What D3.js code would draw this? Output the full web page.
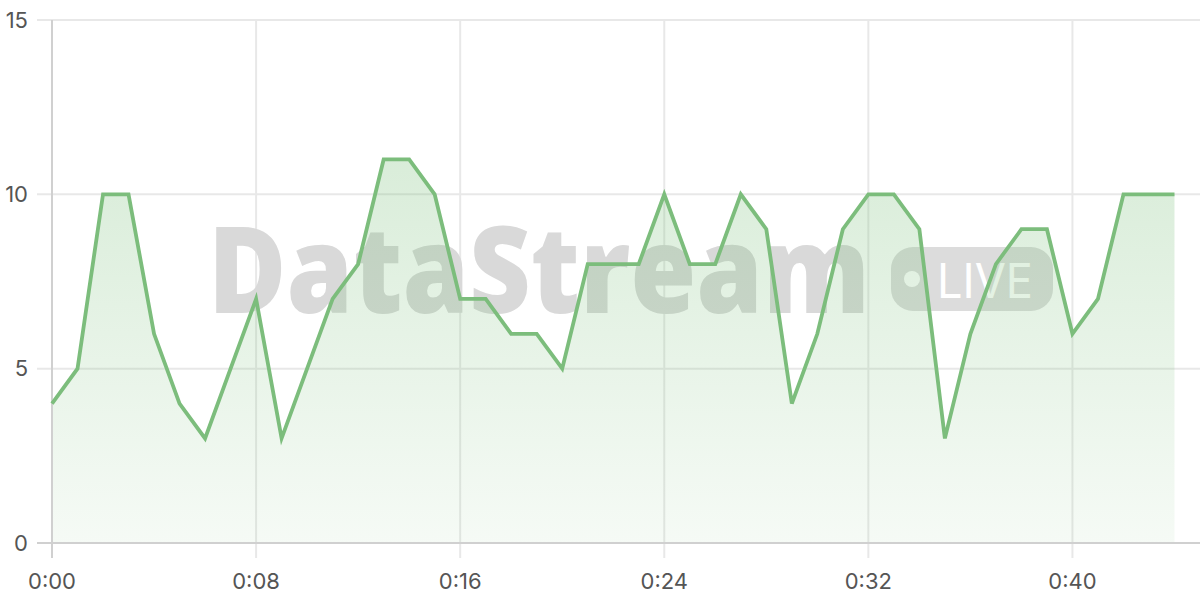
<!DOCTYPE html>
<html><head><meta charset="utf-8">
<script src="https://cdn.jsdelivr.net/npm/d3@7"></script>
<style>body{margin:0;background:#fff}svg{display:block}</style>
</head><body>
<svg id="c" width="1200" height="600"></svg>
<script>
const seconds = d3.range(0, 45);
const values = [4,5,10,10,6,4,3,5,7,3,5,7,8,11,11,10,7,7,6,6,5,8,8,8,10,8,8,10,9,4,6,9,10,10,9,3,6,8,9,9,6,7,10,10,10];
const xTicks = [0,8,16,24,32,40];
const yTicks = [0,5,10,15];
const data = seconds.map((s,i)=>({s, v: values[i]}));

const svg = d3.select("#c");
const x = d3.scaleLinear().domain([0,45]).range([52,1200]);
const y = d3.scaleLinear().domain([0,15]).range([543,20]);
const fmt = s => Math.floor(s/60)+":"+String(s%60).padStart(2,"0");

// grid
svg.append("g").selectAll("line").data(yTicks).join("line")
  .attr("x1",37).attr("x2",1200).attr("y1",d=>y(d)).attr("y2",d=>y(d))
  .attr("stroke","#e8e8e8").attr("stroke-width",2);
svg.append("g").selectAll("line").data(xTicks).join("line")
  .attr("x1",d=>x(d)).attr("x2",d=>x(d)).attr("y1",20).attr("y2",558)
  .attr("stroke","#e8e8e8").attr("stroke-width",2);

// watermark
const wm = svg.append("g");
wm.append("text").attr("x",208).attr("y",313).text("DataStream")
  .attr("font-family","Open Sans, Lato, sans-serif").attr("font-weight",800)
  .attr("font-size",120).attr("fill","#d9d9d9")
  .attr("textLength",662).attr("lengthAdjust","spacingAndGlyphs");
wm.append("rect").attr("x",891).attr("y",247).attr("width",162).attr("height",64).attr("rx",22)
  .attr("fill","#dcdcdc");
wm.append("circle").attr("cx",912).attr("cy",279).attr("r",8).attr("fill","#fff");
wm.append("text").attr("x",937).attr("y",298).text("LIVE")
  .attr("font-family","Inter, Open Sans, sans-serif").attr("font-size",48).attr("fill","#fff")
  .attr("textLength",96).attr("lengthAdjust","spacingAndGlyphs");

// gradient
const defs = svg.append("defs");
const g = defs.append("linearGradient").attr("id","ag").attr("x1",0).attr("x2",0).attr("y1",0).attr("y2",1);
g.append("stop").attr("offset","0%").attr("stop-color","rgb(120,190,120)").attr("stop-opacity",0.28);
g.append("stop").attr("offset","100%").attr("stop-color","rgb(120,190,120)").attr("stop-opacity",0.07);

svg.append("path").datum(data)
  .attr("d", d3.area().x(d=>x(d.s)).y0(y(0)).y1(d=>y(d.v)))
  .attr("fill","url(#ag)");

// axes lines
svg.append("line").attr("x1",52).attr("x2",52).attr("y1",20).attr("y2",558).attr("stroke","#d0d0d0").attr("stroke-width",2);
svg.append("line").attr("x1",37).attr("x2",1200).attr("y1",543).attr("y2",543).attr("stroke","#d0d0d0").attr("stroke-width",2);

svg.append("path").datum(data)
  .attr("d", d3.line().x(d=>x(d.s)).y(d=>y(d.v)))
  .attr("fill","none").attr("stroke","#7cbd7c").attr("stroke-width",3.8).attr("stroke-linejoin","miter");

// labels
svg.append("g").selectAll("text").data(yTicks).join("text")
  .attr("x",28).attr("y",d=>y(d)).attr("dy","0.35em").attr("text-anchor","end")
  .attr("font-family","Inter, Liberation Sans, sans-serif").attr("font-size",22).attr("fill","#555")
  .text(d=>d);
svg.append("g").selectAll("text").data(xTicks).join("text")
  .attr("x",d=>x(d)).attr("y",589).attr("text-anchor","middle")
  .attr("font-family","Inter, Liberation Sans, sans-serif").attr("font-size",22).attr("fill","#555")
  .text(d=>fmt(d));
</script>
</body></html>
